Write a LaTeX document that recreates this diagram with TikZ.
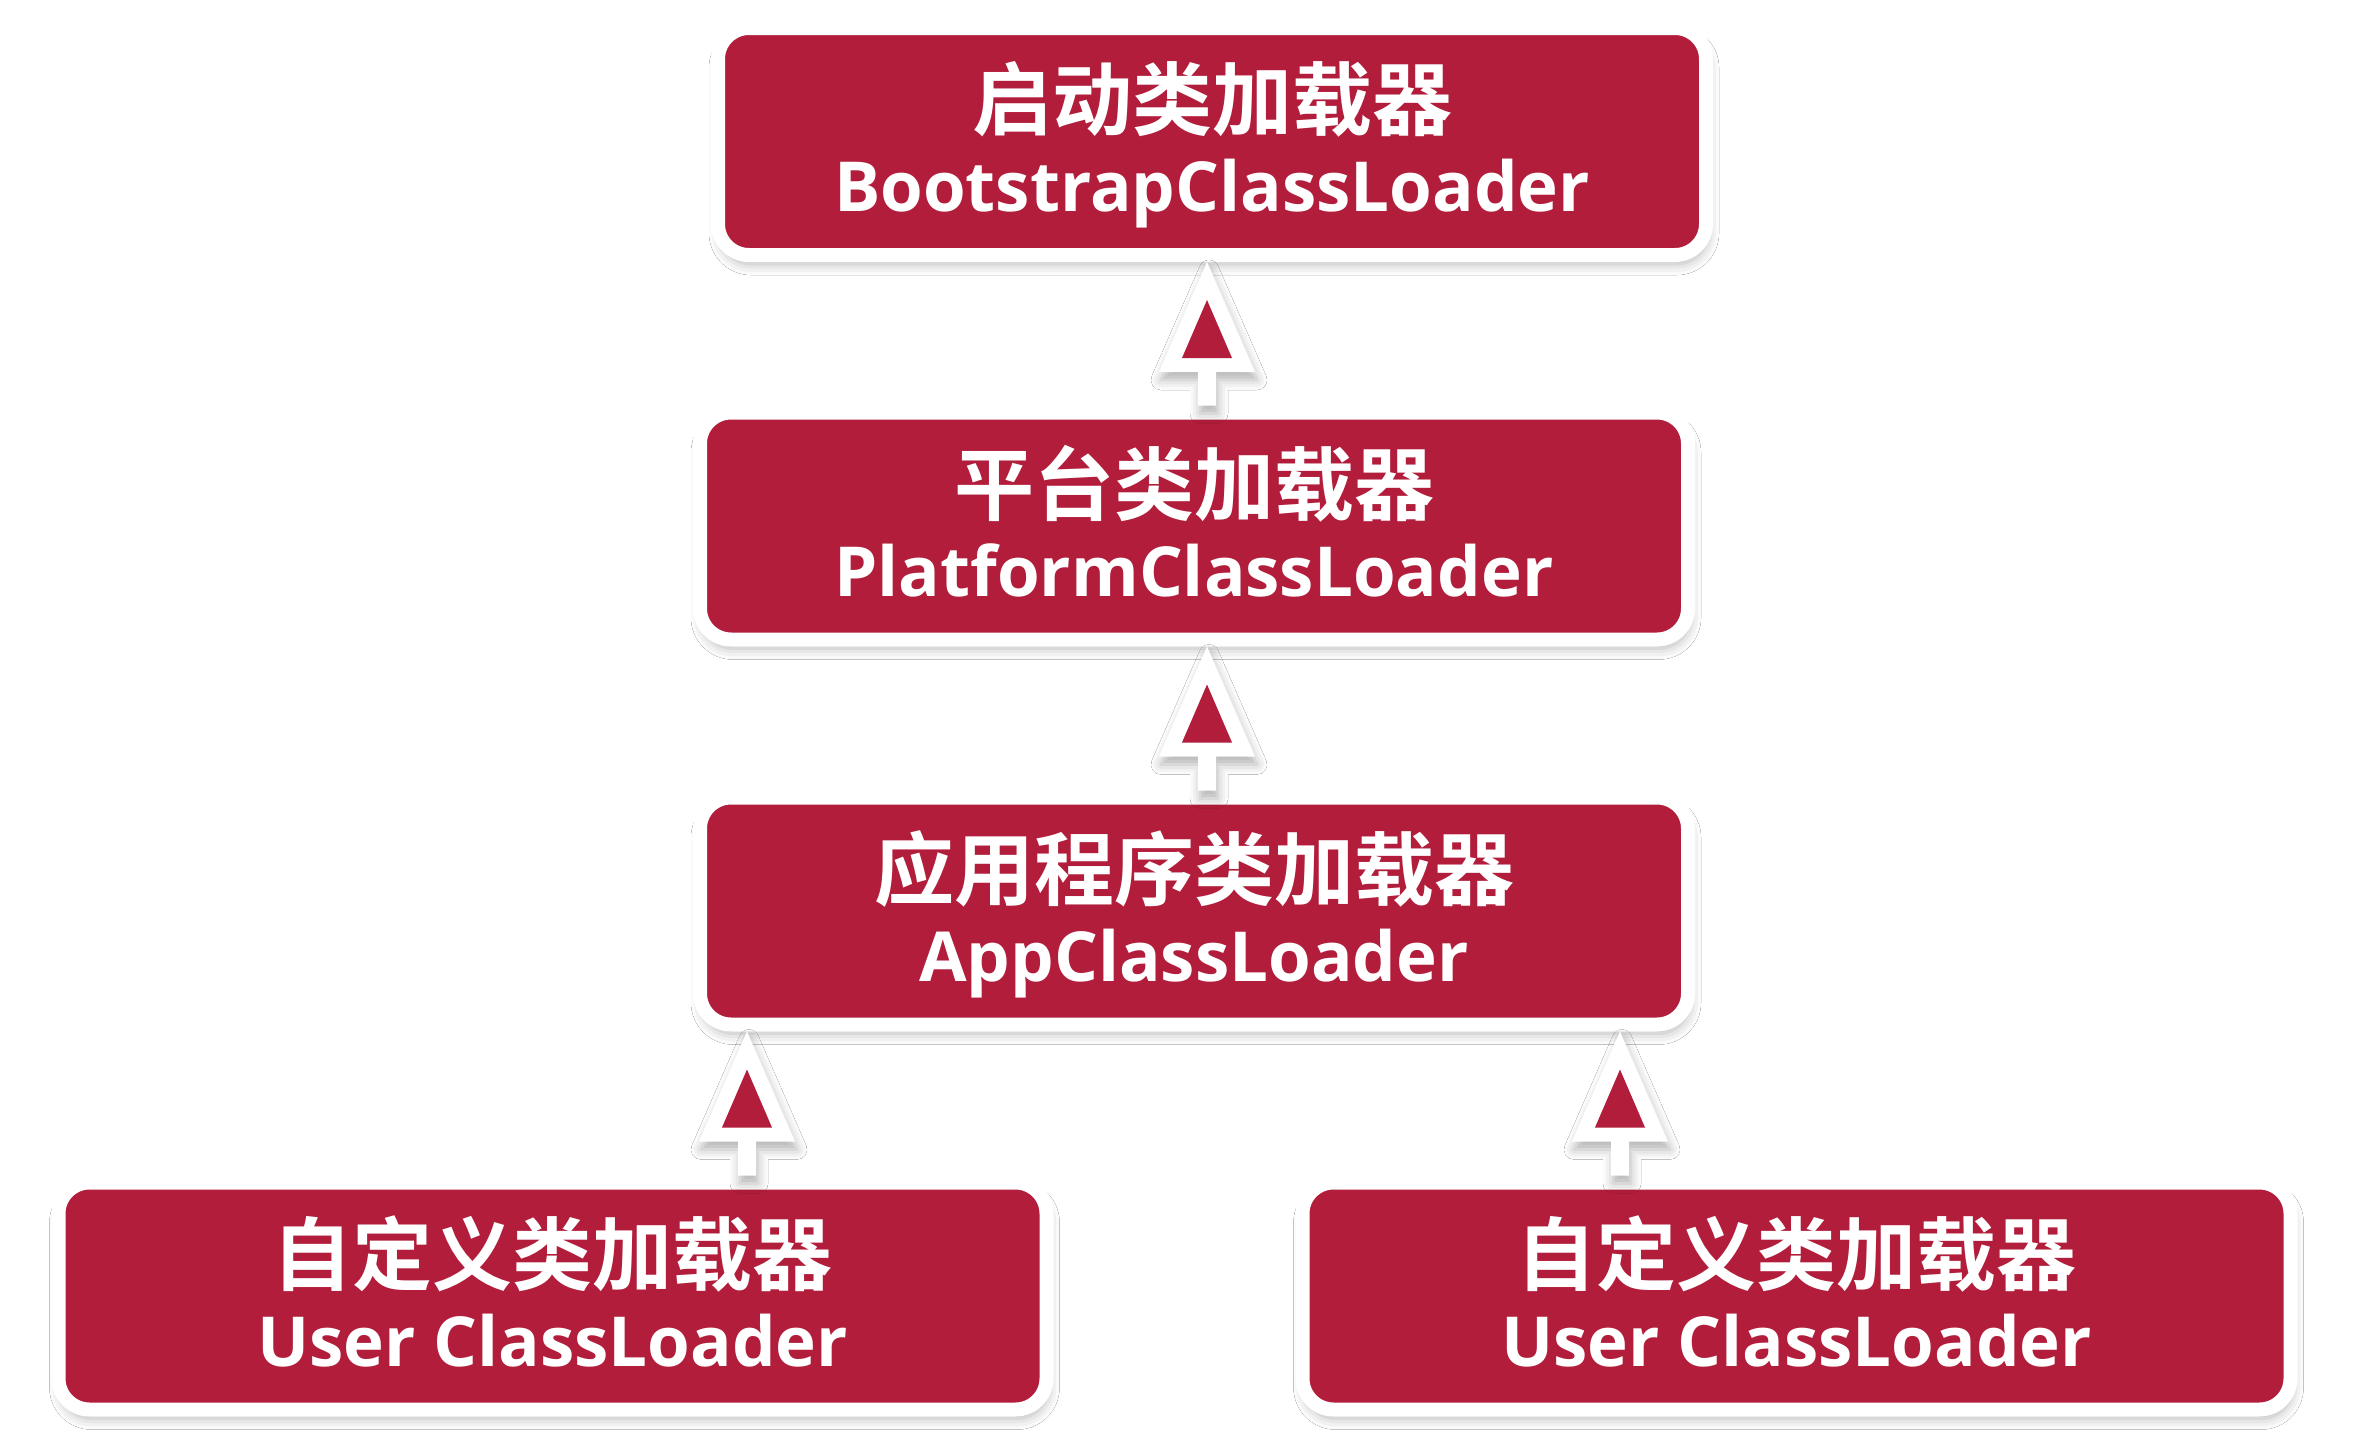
\documentclass[tikz,border=0pt]{standalone}
\usepackage{fontspec}
\usetikzlibrary{calc,shadows.blur}
\newfontfamily\cjkfont{Noto Sans CJK SC}[BoldFont={Noto Sans CJK SC Bold}]
\newfontfamily\enfont{Open Sans}
\definecolor{jred}{RGB}{177,29,58}
\tikzset{
  box/.style={draw=white, line width=14pt, fill=jred, rounded corners=31pt,
    minimum width=988pt, minimum height=227pt, inner sep=0pt, outer sep=7pt,
    blur shadow={shadow xshift=2pt, shadow yshift=-9pt, shadow blur radius=11pt, shadow opacity=30}},
  cntext/.style={anchor=base, text=white, inner sep=0pt, font=\cjkfont\bfseries\fontsize{80}{90}\selectfont},
  entext/.style={anchor=base, text=white, inner sep=0pt, font=\enfont\bfseries\fontsize{69}{79}\selectfont},
  arrwhite/.style={fill=white, blur shadow={shadow xshift=2pt, shadow yshift=-8pt, shadow blur radius=10pt, shadow opacity=30}},
  arrred/.style={fill=jred}
}
\newcommand\uparr[4]{%
  \path let \p1=(#3.south), \p2=(#4.north) in
    coordinate (#1t) at (#2pt,\y1) coordinate (#1b) at (#2pt,\y2);
  \path[arrwhite] (#1t) -- ([shift={(48pt,-110pt)}]#1t) -- ([shift={(9pt,-110pt)}]#1t)
    -- ([xshift=9pt]#1b) -- ([xshift=-9pt]#1b) -- ([shift={(-9pt,-110pt)}]#1t)
    -- ([shift={(-48pt,-110pt)}]#1t) -- cycle;
  \path[arrred] ([yshift=-38pt]#1t) -- ([shift={(25pt,-96pt)}]#1t) -- ([shift={(-25pt,-96pt)}]#1t) -- cycle;
}
\begin{document}
\begin{tikzpicture}[x=1pt,y=-1pt]
\useasboundingbox[fill=white] (0,0) rectangle (2370,1446);
\node[box] (b1) at (1212,141.5) {};
\node[box] (b2) at (1194,526) {};
\node[box] (b3) at (1194,911) {};
\node[box] (b4) at (552.5,1296) {};
\node[box] (b5) at (1796.5,1296) {};
\node[cntext] (b1c) at ([yshift=12pt]b1.center) {启动类加载器};
\node[entext] (b1e) at ([yshift=-70pt]b1.center) {BootstrapClassLoader};
\node[cntext] (b2c) at ([yshift=12pt]b2.center) {平台类加载器};
\node[entext] (b2e) at ([yshift=-70pt]b2.center) {PlatformClassLoader};
\node[cntext] (b3c) at ([yshift=12pt]b3.center) {应用程序类加载器};
\node[entext] (b3e) at ([yshift=-70pt]b3.center) {AppClassLoader};
\node[cntext] (b4c) at ([yshift=12pt]b4.center) {自定义类加载器};
\node[entext] (b4e) at ([yshift=-70pt]b4.center) {User ClassLoader};
\node[cntext] (b5c) at ([yshift=12pt]b5.center) {自定义类加载器};
\node[entext] (b5e) at ([yshift=-70pt]b5.center) {User ClassLoader};
\uparr{a1}{1207}{b1}{b2}
\uparr{a2}{1207}{b2}{b3}
\uparr{a3}{747}{b3}{b4}
\uparr{a4}{1620}{b3}{b5}
\end{tikzpicture}
\end{document}
